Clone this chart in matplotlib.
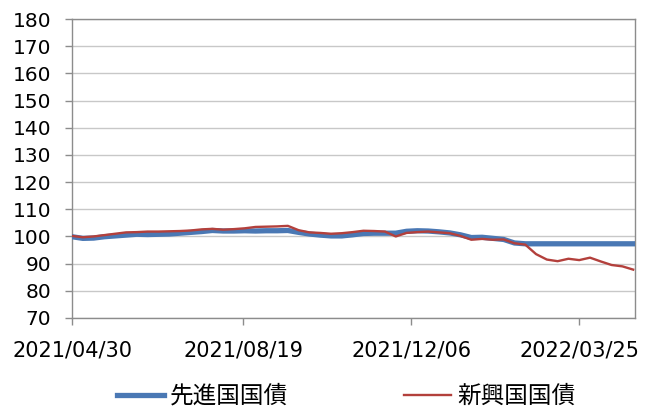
import numpy as np
import pandas as pd
import matplotlib
matplotlib.use('Agg')
import matplotlib.pyplot as plt
import matplotlib.dates as mdates

plt.rcParams['font.family'] = ['DejaVu Sans', 'Noto Sans CJK JP']

# weekly readings (Fridays) from 2021/04/30
dates = pd.date_range('2021-04-30', periods=53, freq='7D')

developed = [99.9, 99.3, 99.4, 99.9, 100.2, 100.5, 100.8, 100.7, 100.8, 100.9,
             101.2, 101.5, 101.8, 102.2, 102.0, 102.0, 102.1, 102.0, 102.1, 102.1,
             102.2, 101.5, 100.9, 100.5, 100.2, 100.2, 100.6, 101.1, 101.2, 101.2,
             101.2, 101.9, 102.1, 102.0, 101.7, 101.3, 100.6, 99.6, 99.7, 99.3,
             98.9, 97.6, 97.3, 97.3, 97.3, 97.3, 97.3, 97.3, 97.3, 97.3,
             97.3, 97.3, 97.3]
emerging = [100.2, 99.7, 100.0, 100.5, 101.0, 101.5, 101.6, 101.8, 101.8, 101.9,
            102.0, 102.2, 102.6, 102.8, 102.5, 102.7, 103.0, 103.5, 103.6, 103.7,
            103.9, 102.3, 101.5, 101.3, 101.0, 101.2, 101.6, 102.1, 102.0, 101.8,
            100.0, 101.3, 101.6, 101.8, 101.5, 101.2, 100.2, 98.8, 99.1, 98.8,
            98.9, 97.5, 97.0, 93.5, 91.5, 90.9, 91.8, 91.3, 92.2, 90.8,
            89.5, 89.0, 87.8]

tick_dates = pd.to_datetime(['2021-04-30', '2021-08-19', '2021-12-06', '2022-03-25'])
yticks = np.arange(70, 181, 10)

fig = plt.figure(figsize=(6.49, 4.09), dpi=100)
ax = fig.add_axes([0.111, 0.2225, 0.867, 0.731])

ax.plot(dates, developed, color='#4a78b4', linewidth=3.8, label='先進国国債', zorder=3)
ax.plot(dates, emerging, color='#b3403c', linewidth=1.7, label='新興国国債', zorder=4)

ax.set_ylim(70, 180)
ax.set_yticks(yticks)
ax.set_xlim(pd.Timestamp('2021-04-30'), pd.Timestamp('2022-04-30'))
ax.set_xticks(tick_dates)
ax.xaxis.set_major_formatter(mdates.DateFormatter('%Y/%m/%d'))

ax.grid(axis='y', color='#c8c8c8', linewidth=1)
ax.set_axisbelow(True)
for s in ax.spines.values():
    s.set_color('#8c8c8c')
    s.set_linewidth(1)
ax.tick_params(axis='both', direction='out', length=5, width=1, color='#8c8c8c',
               labelsize=14.5, pad=10)
ax.tick_params(axis='x', pad=11, labelsize=15)

ax.legend(loc='center', bbox_to_anchor=(0.487, -0.262), ncol=2, frameon=False,
          prop={'family': ['Noto Sans CJK JP'], 'size': 17},
          handlelength=2.0, handletextpad=0.25, columnspacing=4.9)

fig.savefig('out.png', dpi=100)
